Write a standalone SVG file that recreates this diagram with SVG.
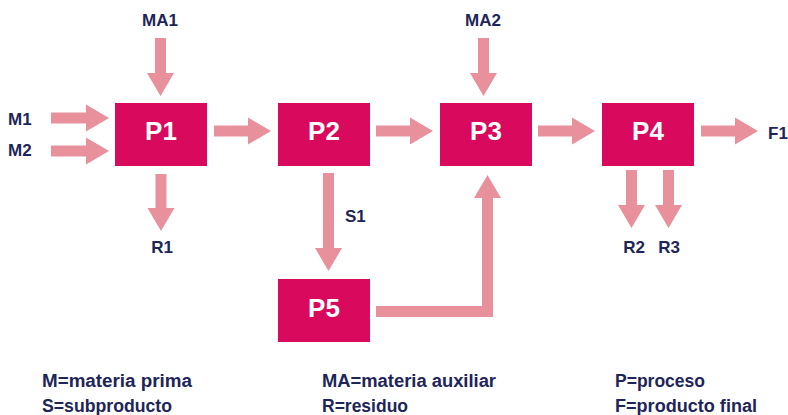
<svg xmlns="http://www.w3.org/2000/svg" width="788" height="415" viewBox="0 0 788 415">
<style>
.box{fill:#D90A5E}
.plabel{fill:#FFFFFF;font-family:"Liberation Sans",Arial,sans-serif;font-weight:bold;font-size:26px;text-anchor:middle}
.arrow{fill:#E8919D}
.lbl{fill:#1E2559;font-family:"Liberation Sans",Arial,sans-serif;font-weight:bold;font-size:17px}
.mid{text-anchor:middle}
.leg{fill:#1E2559;font-family:"Liberation Sans",Arial,sans-serif;font-weight:bold;font-size:18px}
</style>
<rect width="788" height="415" fill="#FFFFFF"/>
<g id="connectors">
<polygon class="arrow" points="51,112.5 86,112.5 86,104.5 109,118 86,131.5 86,123.5 51,123.5"/>
<polygon class="arrow" points="51,145.5 86,145.5 86,137.5 109,151 86,164.5 86,156.5 51,156.5"/>
<polygon class="arrow" points="214,125.5 248,125.5 248,117.5 271,131 248,144.5 248,136.5 214,136.5"/>
<polygon class="arrow" points="376,125.5 410,125.5 410,117.5 433,131 410,144.5 410,136.5 376,136.5"/>
<polygon class="arrow" points="538,125.5 572,125.5 572,117.5 595,131 572,144.5 572,136.5 538,136.5"/>
<polygon class="arrow" points="701,125.5 735,125.5 735,117.5 758,131 735,144.5 735,136.5 701,136.5"/>
<polygon class="arrow" points="155,38 166,38 166,73 174,73 160.5,96 147,73 155,73"/>
<polygon class="arrow" points="478,38 489,38 489,73 497,73 483.5,96 470,73 478,73"/>
<polygon class="arrow" points="155.5,174 166.5,174 166.5,208 174.5,208 161,231 147.5,208 155.5,208"/>
<polygon class="arrow" points="323,173 334,173 334,248 342,248 328.5,271 315,248 323,248"/>
<polygon class="arrow" points="626,170 637,170 637,205 645,205 631.5,228 618,205 626,205"/>
<polygon class="arrow" points="663,170 674,170 674,205 682,205 668.5,228 655,205 663,205"/>
<polygon class="arrow" points="376,306 482,306 482,198 474,198 487.5,175 501,198 493,198 493,317 376,317"/>
</g>
<g id="P1"><rect class="box" x="115" y="103" width="92" height="63"/><text class="plabel" x="161" y="140">P1</text></g>
<g id="P2"><rect class="box" x="278" y="103" width="92" height="63"/><text class="plabel" x="324" y="140">P2</text></g>
<g id="P3"><rect class="box" x="440" y="103" width="92" height="63"/><text class="plabel" x="486" y="140">P3</text></g>
<g id="P4"><rect class="box" x="602" y="103" width="92" height="63"/><text class="plabel" x="648" y="140">P4</text></g>
<g id="P5"><rect class="box" x="278" y="279" width="92" height="63"/><text class="plabel" x="324" y="317">P5</text></g>
<g id="labels">
<text class="lbl mid" x="160" y="26">MA1</text>
<text class="lbl mid" x="483" y="26">MA2</text>
<text class="lbl" x="8" y="125">M1</text>
<text class="lbl" x="8" y="156">M2</text>
<text class="lbl mid" x="162" y="253">R1</text>
<text class="lbl" x="345" y="222">S1</text>
<text class="lbl mid" x="634" y="253">R2</text>
<text class="lbl mid" x="669" y="253">R3</text>
<text class="lbl" x="768" y="139">F1</text>
</g>
<g id="legend">
<text class="leg" x="42" y="387" textLength="150" lengthAdjust="spacingAndGlyphs">M=materia prima</text>
<text class="leg" x="42" y="412" textLength="130" lengthAdjust="spacingAndGlyphs">S=subproducto</text>
<text class="leg" x="322" y="387" textLength="174" lengthAdjust="spacingAndGlyphs">MA=materia auxiliar</text>
<text class="leg" x="322" y="412" textLength="86" lengthAdjust="spacingAndGlyphs">R=residuo</text>
<text class="leg" x="615" y="387" textLength="90" lengthAdjust="spacingAndGlyphs">P=proceso</text>
<text class="leg" x="615" y="412" textLength="142" lengthAdjust="spacingAndGlyphs">F=producto final</text>
</g>
</svg>
